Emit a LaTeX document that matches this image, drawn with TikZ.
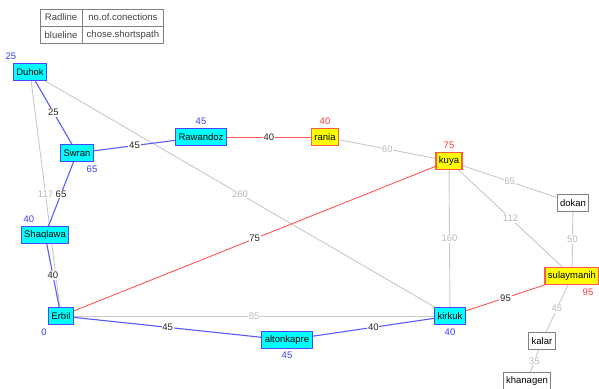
\documentclass[tikz,border=0pt]{standalone}
\usepackage{fontspec}
\setmainfont{Liberation Sans}
\usetikzlibrary{positioning,backgrounds}

\definecolor{boxcyan}{RGB}{0,255,255}
\definecolor{boxblue}{RGB}{70,70,255}
\definecolor{boxyellow}{RGB}{255,255,0}
\definecolor{boxred}{RGB}{255,90,70}
\definecolor{numblue}{RGB}{60,60,255}
\definecolor{numred}{RGB}{255,60,60}
\definecolor{lineblue}{RGB}{90,90,255}
\definecolor{linered}{RGB}{255,85,85}
\definecolor{linegray}{RGB}{200,200,200}
\definecolor{textgray}{RGB}{185,185,185}

\begin{document}
\begin{tikzpicture}[
  x=1pt, y=-1pt,
  every node/.style={font=\fontsize{9.5}{11}\selectfont},
  city/.style={draw, rectangle, inner xsep=3pt, inner ysep=0pt, minimum height=16.5pt, line width=1.2pt},
  pathcity/.style={city, fill=boxcyan, draw=boxblue},
  hotcity/.style={city, fill=boxyellow, draw=boxred},
  othercity/.style={city, fill=white, draw=gray, line width=1pt},
  cell/.style={draw=gray, rectangle, minimum height=17pt, inner sep=0pt, text=black!75},
  blueline/.style={draw=lineblue, line width=1.1pt},
  redline/.style={draw=linered, line width=0.9pt},
  grayline/.style={draw=linegray, line width=0.9pt},
  elabel/.style={fill=white, inner sep=0.8pt, text=black!85},
  glabel/.style={fill=white, inner sep=0.8pt, text=textgray}
]
\useasboundingbox (0,0) rectangle (599,388);
\clip (0,0) rectangle (599,388);

% --- Legend ---
\node[cell, minimum width=42pt] (radkey) at (61,17.5) {Radline};
\node[cell, minimum width=81pt, right=0pt of radkey] (radtxt) {no.of.conections};
\node[cell, minimum width=42pt, below=0pt of radkey] (bluekey) {blueline};
\node[cell, minimum width=81pt, right=0pt of bluekey] (bluetxt) {chose.shortspath};

% --- Cities ---
\node[pathcity, label={[numblue, xshift=-19pt]above:25}] (duhok) at (30,72) {Duhok};
\node[pathcity, label={[numblue, xshift=15pt]below:65}] (swran) at (77,153) {Swran};
\node[pathcity, label={[numblue]above:45}] (rawandoz) at (201,137) {Rawandoz};
\node[hotcity, label={[numred]above:40}] (rania) at (325,137) {rania};
\node[hotcity, label={[numred]above:75}] (kuya) at (449,161) {kuya};
\node[othercity] (dokan) at (573,203) {dokan};
\node[pathcity, label={[numblue, xshift=-16pt]above:40}] (shaqlawa) at (45,235) {Shaqlawa};
\node[pathcity, label={[numblue, xshift=-17pt]below:0}] (erbil) at (61,316) {Erbil};
\node[pathcity, label={[numblue]below:45}] (altonkapre) at (287,340) {altonkapre};
\node[pathcity, label={[numblue]below:40}] (kirkuk) at (450,316) {kirkuk};
\node[hotcity, label={[numred, xshift=16pt]below:95}] (sulaymanih) at (572,276) {sulaymanih};
\node[othercity] (kalar) at (542,341) {kalar};
\node[othercity] (khanagen) at (527,381) {khanagen};

\begin{pgfonlayer}{background}
% --- Other roads ---
\foreach \a/\b/\w in {duhok/erbil/117, duhok/kirkuk/260, rania/kuya/60,
    kuya/dokan/65, kuya/kirkuk/160, kuya/sulaymanih/112, dokan/sulaymanih/50,
    erbil/kirkuk/85, sulaymanih/kalar/45, kalar/khanagen/35}
  \draw[grayline] (\a) -- node[glabel] {\w} (\b);

% --- Red roads ---
\draw[redline] (rawandoz) -- node[elabel] {40} (rania);
\draw[redline] (kuya) -- node[elabel] {75} (erbil);
\draw[redline] (kirkuk) -- node[elabel] {95} (sulaymanih);

% --- Shortest path ---
\draw[blueline] (duhok) -- node[elabel] {25} (swran);
\draw[blueline] (swran) -- node[elabel] {45} (rawandoz);
\draw[blueline] (swran) -- node[elabel] {65} (shaqlawa);
\draw[blueline] (shaqlawa) -- node[elabel] {40} (erbil);
\draw[blueline] (erbil) -- node[elabel] {45} (altonkapre);
\draw[blueline] (altonkapre) -- node[elabel] {40} (kirkuk);
\end{pgfonlayer}

\end{tikzpicture}
\end{document}
